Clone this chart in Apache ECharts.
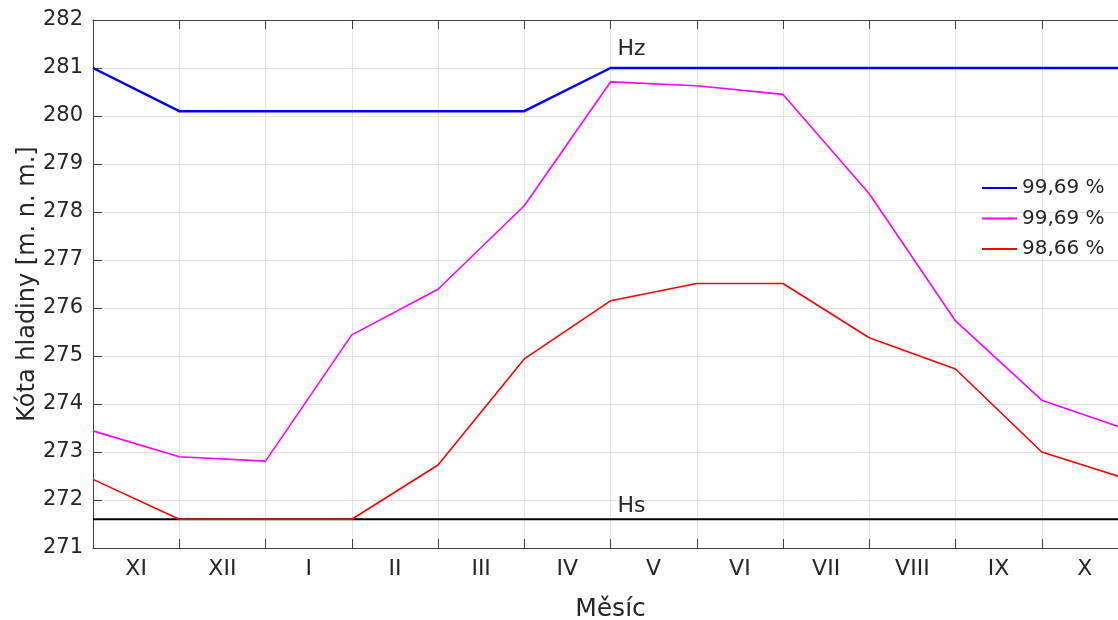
<!DOCTYPE html>
<html>
<head>
<meta charset="utf-8">
<script src="https://cdn.jsdelivr.net/npm/echarts@6/dist/echarts.min.js"></script>
<style>html,body{margin:0;padding:0;background:#fff}#c{width:1118px;height:620px}</style>
</head>
<body>
<div id="c"></div>
<script>
const months = ['XI','XII','I','II','III','IV','V','VI','VII','VIII','IX','X'];
const xPos = [0,1,2,3,4,5,6,7,8,9,10,11,12];
const hzValues = [281,280.1,280.1,280.1,280.1,280.1,281,281,281,281,281,281,281];
const magentaValues = [273.44,272.9,272.81,275.44,276.39,278.13,280.71,280.63,280.45,278.38,275.73,274.08,273.46];
const redValues = [272.43,271.6,271.6,271.6,272.73,274.94,276.15,276.51,276.51,275.38,274.73,273.0,272.43];
const hsLevel = 271.6;
const hzLevel = 281;
const seriesNames = ['99,69 %','99,69 % ','98,66 %'];
const yTicks = [271,282];

const font = 'DejaVu Sans, sans-serif';
const txt = '#262626';
const pairs = (vals) => xPos.map((x,i)=>[x, vals[i]]);

const chart = echarts.init(document.getElementById('c'), null, {renderer:'canvas'});
chart.setOption({
  animation:false,
  textStyle:{fontFamily:font},
  grid:{left:93, right:-10, top:20, bottom:72, containLabel:false, outerBoundsMode:'none'},
  legend:{
    data:seriesNames.map(n=>({name:n, icon:'rect'})), orient:'vertical', left:982, top:178, padding:0,
    itemWidth:35, itemHeight:2, itemGap:10.5,
    formatter:(n)=>n.trim(),
    textStyle:{fontSize:20, color:txt, fontFamily:font, lineHeight:20}
  },
  xAxis:[{
    type:'value', min:0, max:12, interval:1, position:'bottom',
    name:'Měsíc', nameLocation:'middle', nameGap:49,
    nameTextStyle:{fontSize:25, color:txt, fontFamily:font},
    axisLine:{show:true, onZero:false, lineStyle:{color:'#404040', width:1}},
    axisTick:{show:true, inside:true, length:9, lineStyle:{color:'#404040'}},
    axisLabel:{show:true, customValues:[0.5,1.5,2.5,3.5,4.5,5.5,6.5,7.5,8.5,9.5,10.5,11.5],
      formatter:(v)=>months[Math.floor(v)], fontSize:22, color:txt, margin:10, fontFamily:font},
    splitLine:{show:true, lineStyle:{color:'#e3e3e3', width:1}}
  },{
    type:'value', min:0, max:12, interval:1, position:'top',
    axisLine:{show:true, onZero:false, lineStyle:{color:'#404040', width:1}},
    axisTick:{show:true, inside:true, length:9, lineStyle:{color:'#404040'}},
    axisLabel:{show:false}, splitLine:{show:false}
  }],
  yAxis:{
    type:'value', min:yTicks[0], max:yTicks[1], interval:1,
    name:'Kóta hladiny [m. n. m.]', nameLocation:'middle', nameGap:53, nameRotate:90, nameMoveOverlap:false,
    nameTextStyle:{fontSize:24, color:txt, fontFamily:font},
    axisLine:{show:true, onZero:false, lineStyle:{color:'#404040', width:1}},
    axisTick:{show:true, inside:true, length:9, lineStyle:{color:'#404040'}},
    axisLabel:{fontSize:21, color:txt, margin:10, fontFamily:font},
    splitLine:{show:true, lineStyle:{color:'#e3e3e3', width:1}}
  },
  series:[
    {name:'Hs', type:'line', data:[[xPos[0],hsLevel],[xPos[12],hsLevel]], symbol:'none',
      lineStyle:{color:'#000', width:2}, itemStyle:{color:'#000'}, z:3,
      markPoint:{symbol:'circle', symbolSize:1, itemStyle:{color:'rgba(0,0,0,0)'},
        data:[{coord:[6,hsLevel], value:'Hs'}],
        label:{show:true, position:'top', distance:1, offset:[21,0], formatter:'Hs', fontSize:22, color:txt, fontFamily:font}}},
    {name:seriesNames[0], type:'line', data:pairs(hzValues), symbol:'none',
      lineStyle:{color:'#0000ff', width:2.5}, itemStyle:{color:'#0000ff'}, z:4,
      markPoint:{symbol:'circle', symbolSize:1, itemStyle:{color:'rgba(0,0,0,0)'},
        data:[{coord:[6,hzLevel], value:'Hz'}],
        label:{show:true, position:'top', distance:7, offset:[21,0], formatter:'Hz', fontSize:22, color:txt, fontFamily:font}}},
    {name:seriesNames[1], type:'line', data:pairs(magentaValues), symbol:'none',
      lineStyle:{color:'#ff00ff', width:1.6}, itemStyle:{color:'#ff00ff'}, z:4},
    {name:seriesNames[2], type:'line', data:pairs(redValues), symbol:'none',
      lineStyle:{color:'#ff0000', width:1.6}, itemStyle:{color:'#ff0000'}, z:4}
  ]
});
</script>
</body>
</html>
